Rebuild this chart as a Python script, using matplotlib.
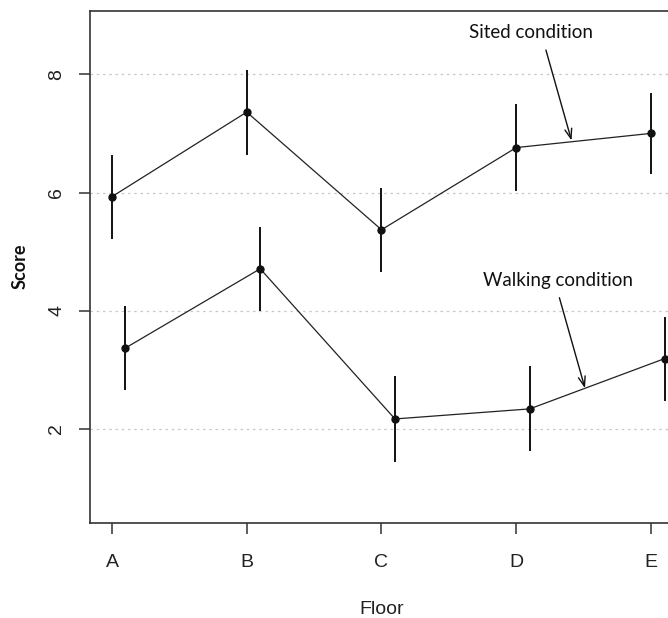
import matplotlib
matplotlib.use("Agg")
import matplotlib.pyplot as plt

# valores (média +/- erro)
floors = ["A", "B", "C", "D", "E"]
sited = [5.93, 7.36, 5.37, 6.76, 7.00]
sited_err = [0.71, 0.72, 0.71, 0.73, 0.69]
walking = [3.37, 4.71, 2.17, 2.34, 3.19]
walking_err = [0.71, 0.71, 0.72, 0.72, 0.71]
y_ticks = [2, 4, 6, 8]

plt.rcParams["font.family"] = ["Liberation Sans", "DejaVu Sans"]

fig = plt.figure(figsize=(6.68, 6.18), dpi=100)
ax = fig.add_axes([90 / 668, 95 / 618, 583 / 668, 512 / 618])

x = list(range(1, len(floors) + 1))
x_walk = [v + 0.1 for v in x]

for xs, ys, es in [(x, sited, sited_err), (x_walk, walking, walking_err)]:
    ax.plot(xs, ys, color="#222222", linewidth=0.9, zorder=3)
    ax.errorbar(xs, ys, yerr=es, fmt="o", color="#111111", markersize=5,
                elinewidth=1.4, capsize=0, zorder=4)

ax.set_xlim(0.837, 5.163)
ax.set_ylim(0.41, 9.07)

ax.set_xticks(x)
ax.set_xticklabels(floors)
ax.set_yticks(y_ticks)
ax.set_yticklabels([str(t) for t in y_ticks], rotation=90, va="center")
ax.tick_params(axis="both", length=8, width=1.1, color="#333333",
               labelsize=14, labelcolor="#222222")
ax.tick_params(axis="x", pad=14)
ax.tick_params(axis="y", pad=10)

for yt in y_ticks:
    ax.axhline(yt, color="#c8c8c8", linestyle=(0, (2, 3)), linewidth=0.9, zorder=1)

for s in ax.spines.values():
    s.set_color("#333333")
    s.set_linewidth(1.2)

ax.set_xlabel("Floor", fontsize=14, color="#222222", labelpad=22)
fig.text(20 / 668, 1 - 266 / 618, "Score", rotation=90, ha="center", va="center",
         fontsize=13, fontweight="bold", family=["Lato", "DejaVu Sans"], color="#111111")

arrow = dict(arrowstyle="->,head_length=0.7,head_width=0.25", color="#111111",
             linewidth=1.0, shrinkA=0, shrinkB=0)
ax.annotate("", xy=(4.41, 6.88), xytext=(4.22, 8.41), arrowprops=arrow)
ax.annotate("", xy=(4.51, 2.69), xytext=(4.32, 4.22), arrowprops=arrow)
ax.text(4.11, 8.71, "Sited condition", ha="center", va="center", fontsize=13.5,
        family=["Lato", "DejaVu Sans"], color="#111111")
ax.text(4.31, 4.52, "Walking condition", ha="center", va="center", fontsize=13.5,
        family=["Lato", "DejaVu Sans"], color="#111111")

fig.savefig("out.png", dpi=100)
